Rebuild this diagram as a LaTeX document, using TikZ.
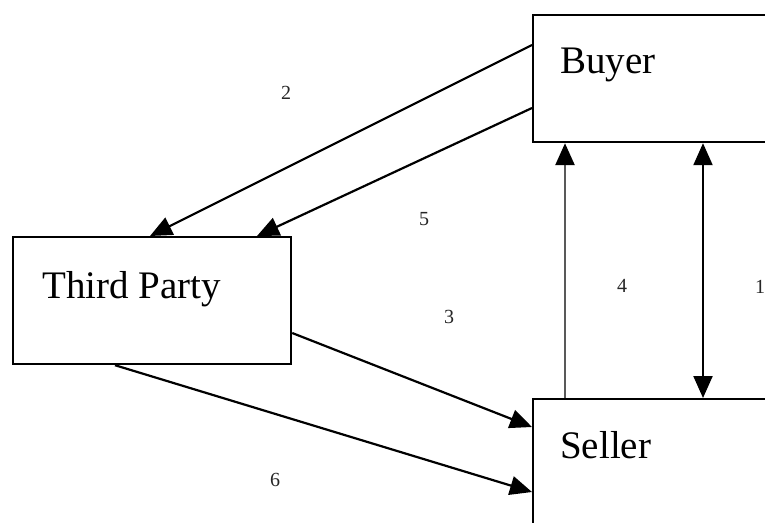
\documentclass[tikz,border=0pt]{standalone}
\usepackage{fontspec}
\setmainfont{Liberation Serif}
\usetikzlibrary{arrows.meta,calc}
\begin{document}
\begin{tikzpicture}[x=1pt,y=-1pt,
  party/.style={draw=black,line width=2.2pt,rectangle,inner sep=0pt,anchor=north west},
  partyname/.style={anchor=base west,inner sep=0pt,font=\fontsize{39}{42}\selectfont},
  flow/.style={line width=2.2pt,draw=black,-{Triangle[length=22pt,width=19pt,color=black]}},
  both/.style={flow,{Triangle[length=22pt,width=19pt]}-{Triangle[length=22pt,width=19pt]}},
  step label/.style={inner sep=0pt,font=\fontsize{20}{22}\selectfont,text=black!85}]
\useasboundingbox (0,0) rectangle (765,522);
\clip (0,0) rectangle (765,522);
\fill[white] (0,0) rectangle (765,522);

% the three parties
\node[party,minimum width=268pt,minimum height=127pt] (buyer) at (532,14) {};
\node[party,minimum width=278pt,minimum height=127pt] (third) at (12,236) {};
\node[party,minimum width=268pt,minimum height=170pt] (seller) at (532,398) {};

\node[partyname] (buyername) at (560,73) {Buyer};
\node[partyname] (thirdname) at (42,298) {Third Party};
\node[partyname] (sellername) at (560,458) {Seller};

% message flows
\draw[flow] ($(buyer.north west)+(0,31)$) -- ($(third.north west)+(138,0)$);
\draw[flow] ($(buyer.north west)+(0,94)$) -- ($(third.north west)+(245,0)$);
\draw[flow] ($(third.north east)+(0,97)$) -- ($(seller.north west)+(0,29)$);
\draw[flow] ($(third.south west)+(103,0)$) -- ($(seller.north west)+(0,94)$);
\draw[flow,draw=black!65,line width=2.6pt] ($(seller.north west)+(33,0)$) -- ($(buyer.south west)+(33,0)$);
\draw[both] ($(buyer.south west)+(171,0)$) -- ($(seller.north west)+(171,0)$);

% step numbers
\node[step label] (s1) at (760,287) {1};
\node[step label] (s2) at (286,93) {2};
\node[step label] (s3) at (449,317) {3};
\node[step label] (s4) at (622,286) {4};
\node[step label] (s5) at (424,219) {5};
\node[step label] (s6) at (275,480) {6};
\end{tikzpicture}
\end{document}
